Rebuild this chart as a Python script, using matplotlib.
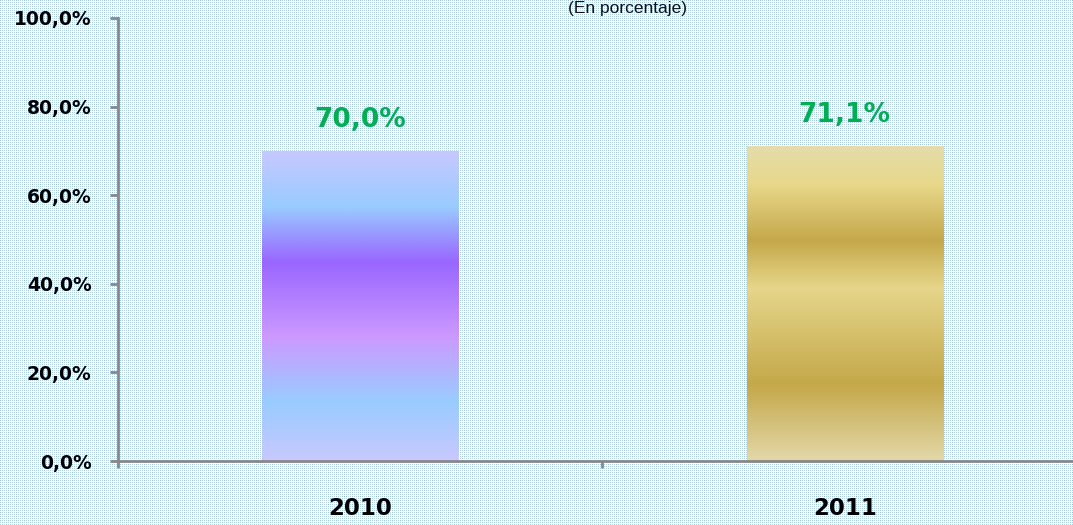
import numpy as np
import matplotlib
matplotlib.use('Agg')
import matplotlib.pyplot as plt
from matplotlib.colors import LinearSegmentedColormap

# Data
years = ['2010', '2011']
values = [70.0, 71.1]
value_labels = ['70,0%', '71,1%']
y_ticks = [0, 20, 40, 60, 80, 100]
y_tick_labels = ['0,0%', '20,0%', '40,0%', '60,0%', '80,0%', '100,0%']
subtitle = '(En porcentaje)'

# Gradient stops (fraction from bottom of bar, colour)
grad_2010 = [(0.00, '#c8c8ff'), (0.19, '#99ccff'), (0.40, '#cc99ff'),
             (0.64, '#9966ff'), (0.82, '#99ccff'), (1.00, '#c8c8ff')]
grad_2011 = [(0.00, '#e2d8a8'), (0.24, '#c4a84a'), (0.55, '#e6d68a'),
             (0.70, '#c4a84a'), (0.88, '#e8d88a'), (1.00, '#e4dcaa')]
gradients = [grad_2010, grad_2011]

W, H = 1073, 525
fig = plt.figure(figsize=(W / 100, H / 100), dpi=100)

# Dotted background texture
tile = np.ones((8, 8, 3))
blue = np.array([0.70, 0.82, 0.89])
tile[::2, ::2] = blue
tile[0, ::2] = blue
tile[::2, 0] = blue
tile[0, 0] = [0.58, 0.75, 0.85]
bg = np.tile(tile, (H // 8 + 1, W // 8 + 1, 1))[:H, :W]
fig.figimage(bg, xo=0, yo=0, zorder=-10)

ax = fig.add_axes([118 / W, 64 / H, 969 / W, 443 / H])
ax.patch.set_alpha(0)
ax.set_zorder(1)

x = np.arange(len(years))
bars = ax.bar(x, values, width=0.405, color='none', zorder=2)

for bar, stops in zip(bars, gradients):
    cmap = LinearSegmentedColormap.from_list('g', stops)
    grad = np.linspace(0, 1, 256).reshape(-1, 1)
    x0, y0 = bar.get_x(), bar.get_y()
    w, h = bar.get_width(), bar.get_height()
    im = ax.imshow(grad, cmap=cmap, origin='lower', aspect='auto',
                   extent=[x0, x0 + w, y0, y0 + h], zorder=2)
    im.set_clip_path(bar)

for xi, v, lab in zip(x, values, value_labels):
    ax.annotate(lab, (xi, v), xytext=(0, 13), textcoords='offset points',
                ha='center', va='bottom', color='#00b050',
                fontsize=19, fontweight='bold', family='DejaVu Sans')

ax.set_xlim(-0.5, 1.5)
ax.set_ylim(0, 100)

ax.set_yticks(y_ticks)
ax.set_yticklabels(y_tick_labels)
ax.set_xticks([-0.5, 0.5, 1.5])
ax.set_xticklabels([])
ax.set_xticks(x, minor=True)
ax.set_xticklabels(years, minor=True)

ax.tick_params(axis='y', length=6, width=2, color='#888888', pad=13,
               labelsize=13.5, labelcolor='black')
ax.tick_params(axis='x', which='major', length=5, width=2, color='#888888')
ax.tick_params(axis='x', which='minor', length=0, pad=26, labelsize=16.5)
for lab in ax.get_yticklabels() + ax.get_xticklabels(minor=True):
    lab.set_fontweight('bold')

for side in ['top', 'right']:
    ax.spines[side].set_visible(False)
for side in ['left', 'bottom']:
    ax.spines[side].set_color('#888888')
    ax.spines[side].set_linewidth(2)

fig.text(627 / W, 1 - 8 / H, subtitle, ha='center', va='center',
         fontsize=12.5, family='Liberation Sans', color='#111111')

fig.savefig('out.png', dpi=100)
